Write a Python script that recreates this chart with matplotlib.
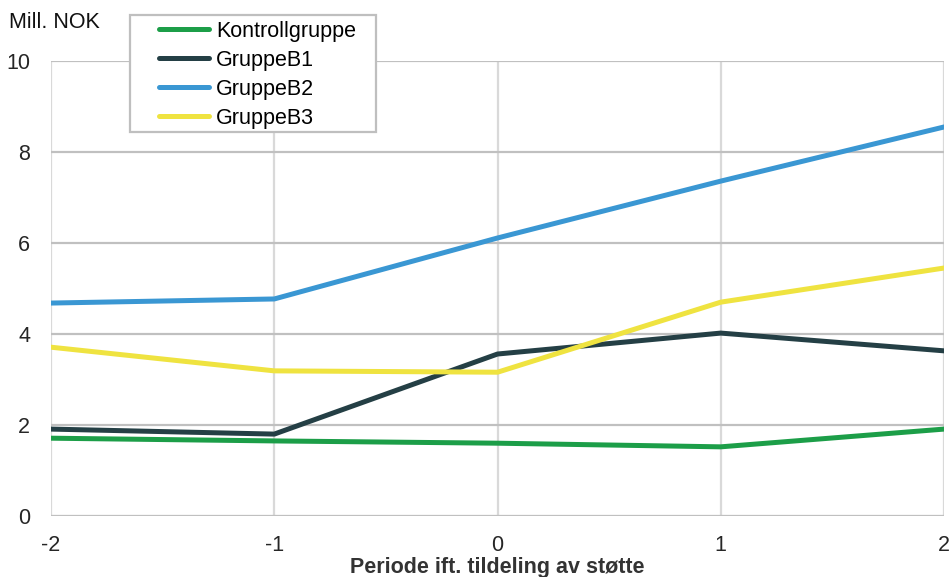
import matplotlib
matplotlib.use("Agg")
import matplotlib.pyplot as plt
from matplotlib.patches import Rectangle

plt.rcParams['font.family'] = ['Liberation Sans', 'DejaVu Sans']

periods = [-2, -1, 0, 1, 2]
kontroll = [1.71, 1.65, 1.60, 1.52, 1.91]
gruppe_b1 = [1.91, 1.80, 3.56, 4.02, 3.63]
gruppe_b2 = [4.68, 4.77, 6.11, 7.36, 8.55]
gruppe_b3 = [3.71, 3.19, 3.16, 4.70, 5.45]

series = [
    ("Kontrollgruppe", kontroll, "#1c9e48"),
    ("GruppeB1", gruppe_b1, "#243f45"),
    ("GruppeB2", gruppe_b2, "#3a97d3"),
    ("GruppeB3", gruppe_b3, "#efe340"),
]

FS = 15.5
W, H = 953, 577

fig = plt.figure(figsize=(W / 100, H / 100), dpi=100)
ax = fig.add_axes([51/W, 1-516/H, (944-51)/W, (516-61)/H])

handles = []
for name, vals, col in series:
    ln, = ax.plot(periods, vals, color=col, lw=3.6, label=name,
                  solid_capstyle='round', zorder=3)
    handles.append(ln)

ax.set_xlim(-2, 2)
ax.set_ylim(0, 10)
ax.set_xticks(periods)
ax.set_xticklabels(["-2", "-1", "0", "1", "2"])
ax.set_yticks([0, 2, 4, 6, 8, 10])

ax.grid(axis='y', color='#c0c0c0', lw=1.6, zorder=1)
ax.grid(axis='x', color='#d9d9d9', lw=1.6, zorder=1)
for s in ax.spines.values():
    s.set_visible(False)
ax.axhline(0, color='#c0c0c0', lw=2.2, zorder=2)
ax.tick_params(length=0, labelsize=FS, colors='#262626')
ax.tick_params(axis='x', pad=13.5)
ax.tick_params(axis='y', pad=15)

ax.set_xlabel("Periode ift. tildeling av støtte", fontsize=FS, fontweight='bold',
              color='#333333', labelpad=1)
fig.text(9/W, 1-22.5/H, "Mill. NOK", fontsize=FS, color='#111111', va='center')

# legend box drawn over the plot area
box = Rectangle((130/W, 1-132/H), (376-130)/W, (132-15)/H, transform=fig.transFigure,
                facecolor='white', edgecolor='#bfbfbf', lw=1.6, zorder=3)
fig.patches.append(box)

leg = fig.legend(handles, [s[0] for s in series], loc='upper left',
                 bbox_to_anchor=(159/W, 1-21/H), borderaxespad=0, frameon=False,
                 fontsize=FS, handlelength=2.3, handletextpad=0.36,
                 labelspacing=0.37, borderpad=0)
leg.set_zorder(4)

fig.savefig("out.png", dpi=100)
